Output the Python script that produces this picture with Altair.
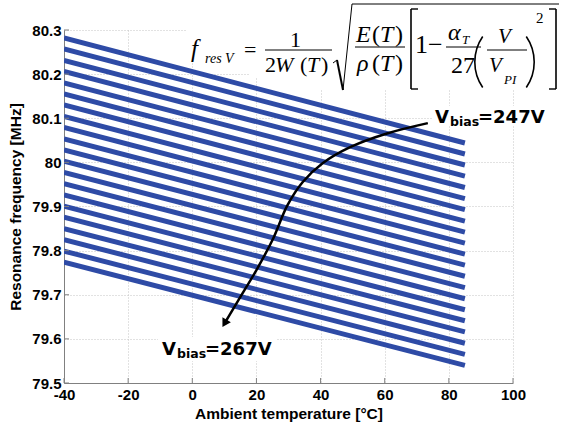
import altair as alt
import pandas as pd

# Resonance frequency vs. ambient temperature, one straight line per bias voltage
vbias = list(range(247, 268))
temp_ends = [-40, 85]
freq_at_m40 = [80.282, 80.257, 80.231, 80.206, 80.180, 80.155, 80.130, 80.104,
               80.079, 80.053, 80.028, 80.003, 79.977, 79.952, 79.926, 79.901,
               79.876, 79.850, 79.825, 79.799, 79.774]
freq_at_85 = [80.044, 80.019, 79.994, 79.969, 79.943, 79.918, 79.893, 79.867,
              79.842, 79.817, 79.792, 79.767, 79.742, 79.716, 79.691, 79.666,
              79.641, 79.616, 79.590, 79.565, 79.540]

x_ticks = [-40, -20, 0, 20, 40, 60, 80, 100]
y_ticks = [79.5, 79.6, 79.7, 79.8, 79.9, 80.0, 80.1, 80.2, 80.3]

# curved arrow from the 247 V label towards the 267 V label (data coordinates)
arrow_t = [73.44, 60.94, 49.38, 40.63, 34.38, 29.69, 25.0, 20.0, 15.0, 10.06]
arrow_f = [80.089, 80.066, 80.035, 79.998, 79.955, 79.903, 79.824, 79.756, 79.695, 79.635]

# plot area geometry
W, H = 449, 353
OX, OY = 64, 30
BLUE = "#2e4ba6"
AXIS_GREY = "#808080"

rows = []
for i, v in enumerate(vbias):
    rows.append({"vbias": v, "temp": temp_ends[0], "freq": freq_at_m40[i]})
    rows.append({"vbias": v, "temp": temp_ends[1], "freq": freq_at_85[i]})
lines_df = pd.DataFrame(rows)

x_scale = alt.Scale(domain=[-40, 100], nice=False, zero=False)
y_scale = alt.Scale(domain=[79.5, 80.3], nice=False, zero=False)

x_axis = alt.Axis(
    values=x_ticks, title="Ambient temperature [°C]", labelExpr="'' + datum.value",
    labelFont="Liberation Sans", labelFontWeight="bold", labelFontSize=15,
    labelColor="black", labelPadding=4, labelFlush=False, labelOverlap=False,
    ticks=False, tickSize=0, domainColor=AXIS_GREY,
    grid=True, gridColor="#c4c4c4", gridDash=[1, 2],
    titleFont="Liberation Sans", titleFontWeight="bold", titleFontSize=15.5,
    titleColor="black", titleX=W / 2, titleY=35, titleAlign="center",
    titleBaseline="alphabetic",
)
y_axis = alt.Axis(
    values=y_ticks, format="~g", title="Resonance frequency [MHz]",
    labelFont="Liberation Sans", labelFontWeight="bold", labelFontSize=15,
    labelColor="black", labelPadding=3, labelOverlap=False,
    ticks=False, tickSize=0, domainColor=AXIS_GREY,
    grid=True, gridColor="#c4c4c4", gridDash=[1, 2],
    titleFont="Liberation Sans", titleFontWeight="bold", titleFontSize=15.5,
    titleColor="black", titleAngle=270, titleX=-44, titleY=H / 2,
    titleAlign="center", titleBaseline="alphabetic",
)

X = alt.X("temp:Q", scale=x_scale, axis=x_axis)
Y = alt.Y("freq:Q", scale=y_scale, axis=y_axis)

lines = alt.Chart(lines_df).mark_line(
    strokeWidth=5, color=BLUE, strokeCap="butt", clip=True
).encode(x=X, y=Y, detail="vbias:O")

# inward tick marks
xtick_marks = alt.Chart(pd.DataFrame({"temp": x_ticks})).mark_rule(color=AXIS_GREY).encode(
    x=X, y=alt.value(H), y2=alt.value(H - 5)
)
ytick_marks = alt.Chart(pd.DataFrame({"freq": y_ticks})).mark_rule(color=AXIS_GREY).encode(
    y=Y, x=alt.value(0), x2=alt.value(5)
)

one = pd.DataFrame({"k": [0]})


def box(x1, y1, x2, y2, color="white"):
    return alt.Chart(one).mark_rect(color=color).encode(
        x=alt.value(x1 - OX), x2=alt.value(x2 - OX),
        y=alt.value(y1 - OY), y2=alt.value(y2 - OY),
    )


def seg(x1, y1, x2, y2, w=1.0):
    return alt.Chart(one).mark_rule(color="black", strokeWidth=w).encode(
        x=alt.value(x1 - OX), x2=alt.value(x2 - OX),
        y=alt.value(y1 - OY), y2=alt.value(y2 - OY),
    )


def tok(t, px, py, size, font="Liberation Serif", style="normal", weight="normal"):
    return alt.Chart(one).mark_text(
        text=t, align="left", baseline="alphabetic", font=font, fontSize=size,
        fontStyle=style, fontWeight=weight, color="black",
    ).encode(x=alt.value(px - OX), y=alt.value(py - OY))


def paren_arc(cx, cy, th1, th2, r=46):
    return alt.Chart(one).mark_arc(
        color="black", theta=th1, theta2=th2, radius=r, radius2=r - 1.6
    ).encode(x=alt.value(cx - OX), y=alt.value(cy - OY))


# white backing behind the formula and the two labels
backing = [
    box(186, 0, 250, 60), box(250, 0, 300, 77), box(300, 0, 561, 90),
    box(432, 106, 558, 125), box(158, 337, 276, 361),
]

# f_res V = 1 / (2W(T)) * sqrt( E(T)/rho(T) * [1 - alpha_T/27 * (V/V_PI)^2] )
I = "italic"
formula = [
    tok("f", 191, 57, 25, style=I),
    tok("res V", 205, 63, 14, style=I),
    tok("=", 244, 57, 22),
    tok("1", 290, 47, 22),
    seg(265, 50, 332, 50),
    tok("2", 265, 72, 22),
    tok("W", 275, 72, 22, style=I),
    tok("(", 300, 72, 22),
    tok("T", 307, 72, 22, style=I),
    tok(")", 321, 72, 22),
    # radical
    seg(333, 63, 337, 60, 1),
    seg(337, 60, 343, 90, 2),
    seg(343, 90, 352, 4, 1),
    seg(352, 4, 559, 4, 1),
    # E(T) / rho(T)
    tok("E", 356, 42, 24, style=I),
    tok("(", 372, 42, 24),
    tok("T", 380, 42, 24, style=I),
    tok(")", 395, 42, 24),
    seg(355, 47, 405, 47),
    tok("ρ", 357, 71, 24, style=I),
    tok("(", 372, 71, 24),
    tok("T", 380, 71, 24, style=I),
    tok(")", 395, 71, 24),
    # square brackets
    seg(411, 9, 411, 89, 1.6), seg(411, 9, 418, 9, 1.4), seg(411, 89, 418, 89, 1.4),
    seg(556, 9, 556, 89, 1.6), seg(549, 9, 556, 9, 1.4), seg(549, 89, 556, 89, 1.4),
    tok("1", 415, 53, 26),
    tok("−", 428, 53, 26),
    tok("α", 448, 40, 24, style=I),
    tok("T", 462, 44, 13, style=I),
    seg(446, 47, 481, 47),
    tok("27", 451, 73, 24),
    paren_arc(520, 62, 4.112, 5.313),
    tok("V", 498, 43, 21, style=I),
    seg(487, 50, 527, 50),
    tok("V", 489, 72, 21, style=I),
    tok("PI", 504, 84, 13, style=I),
    paren_arc(489, 62, 0.970, 2.171),
    tok("2", 536, 23, 15),
]

# bias voltage labels
SANS = "DejaVu Sans"
labels = [
    tok("V", 435, 123, 18, font=SANS, weight="bold"),
    tok("bias", 450, 126, 12.5, font=SANS, weight="bold"),
    tok("=247V", 478, 123, 18, font=SANS, weight="bold"),
    tok("V", 162, 355, 18, font=SANS, weight="bold"),
    tok("bias", 177, 358, 12.5, font=SANS, weight="bold"),
    tok("=267V", 205, 355, 18, font=SANS, weight="bold"),
]

arrow_df = pd.DataFrame({"temp": arrow_t, "freq": arrow_f})
arrow = alt.Chart(arrow_df).mark_line(
    color="black", strokeWidth=2.5, interpolate="catmull-rom"
).encode(x=X, y=Y)
arrow_head = alt.Chart(
    pd.DataFrame({"temp": [arrow_t[-1]], "freq": [arrow_f[-1]]})
).mark_point(
    shape="triangle-up", filled=True, size=95, angle=210, color="black", opacity=1
).encode(x=X, y=Y)

chart = alt.layer(
    lines, xtick_marks, ytick_marks, *backing, arrow, arrow_head, *formula, *labels
).properties(
    width=W, height=H,
    padding={"left": OX, "top": OY, "right": 561 - OX - W, "bottom": 425 - OY - H},
    autosize=alt.AutoSizeParams(type="none"),
    background="white",
).configure_view(stroke=None)

chart.save("out.html", embed_options={"renderer": "svg", "actions": False})
